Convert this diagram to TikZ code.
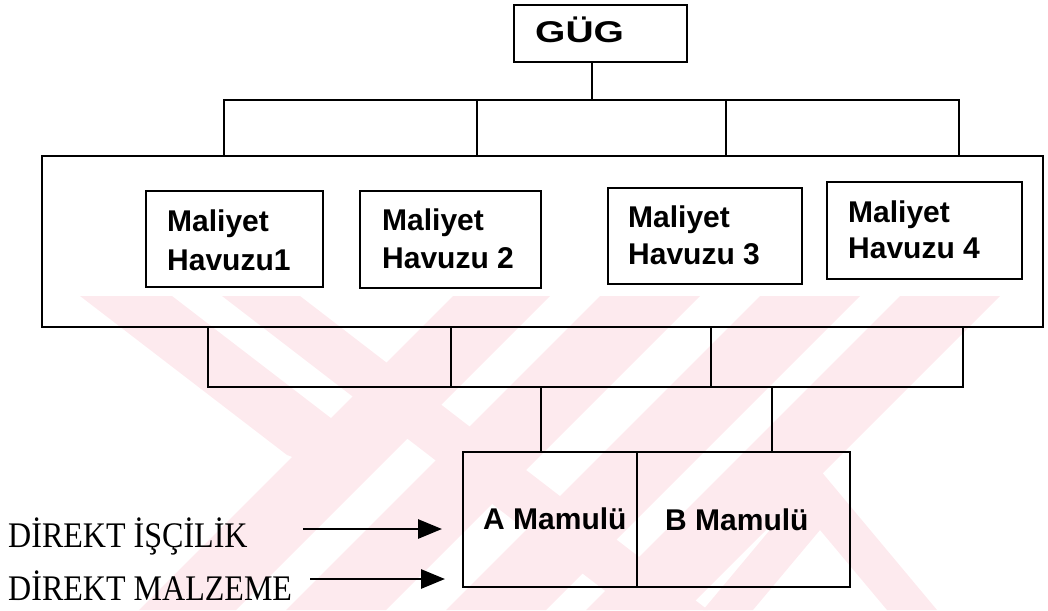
\documentclass[tikz,border=0pt]{standalone}
\usepackage{fontspec}
\usetikzlibrary{arrows.meta}
\newfontfamily\poolfont{Liberation Sans}
\newfontfamily\gugfont{Liberation Sans}[FakeStretch=1.3]
\newfontfamily\costfont{Liberation Serif}[FakeStretch=0.89]
\definecolor{wmpink}{RGB}{253,234,238}
\begin{document}
\begin{tikzpicture}[x=1pt,y=-1pt,
  box/.style={draw, line width=2.8pt, inner sep=0pt},
  wire/.style={line width=2.8pt},
  feed/.style={line width=2.8pt, -{Triangle[length=24pt,width=19pt]}},
  pooltext/.style={anchor=base west, inner sep=0pt, font=\poolfont\bfseries\fontsize{30}{34}\selectfont},
  prodtext/.style={anchor=base west, inner sep=0pt, font=\poolfont\bfseries\fontsize{30}{34}\selectfont},
  costtext/.style={anchor=base west, inner sep=0pt, font=\costfont\fontsize{36}{40}\selectfont}]
\useasboundingbox (0,0) rectangle (1048,610);

% faint background stamp
\begin{scope}
  \clip (0,296) rectangle (1048,610);
  \fill[wmpink] (80,296) -- (172,296) -- (379,455) -- (333,472) -- (287,455) -- cycle;
  \fill[wmpink] (222,296) -- (300,296) -- (708,610) -- (630,610) -- cycle;
  \fill[wmpink] (453,296) -- (550,296) -- (236,610) -- (139,610) -- cycle;
  \fill[wmpink] (600,296) -- (700,296) -- (386,610) -- (286,610) -- cycle;
  \fill[wmpink] (760,296) -- (860,296) -- (546,610) -- (446,610) -- cycle;
  \fill[wmpink] (900,296) -- (1000,296) -- (686,610) -- (586,610) -- cycle;
  \fill[wmpink] (820,470) -- (937,610) -- (887,610) -- (820,530) -- (753,610) -- (703,610) -- cycle;
\end{scope}

% boxes
\node[box, minimum width=173pt, minimum height=57pt] (gug) at (600.5,33.5) {};
\node[box, minimum width=1001pt, minimum height=171pt] (pools) at (542.5,241.5) {};
\node[box, minimum width=177pt, minimum height=96pt] (p1) at (234.5,239) {};
\node[box, minimum width=181pt, minimum height=97pt] (p2) at (450.5,239.5) {};
\node[box, minimum width=194pt, minimum height=96pt] (p3) at (705,236) {};
\node[box, minimum width=195pt, minimum height=97pt] (p4) at (924.5,230.5) {};
\node[box, minimum width=174pt, minimum height=135pt] (pa) at (550,519.5) {};
\node[box, minimum width=213pt, minimum height=135pt] (pb) at (743.5,519.5) {};

% texts
\node[anchor=base west, inner sep=0pt, font=\gugfont\bfseries\fontsize{30}{34}\selectfont] (gugt) at (535,43) {GÜG};
\node[pooltext] (p1a) at (167,231) {Maliyet};
\node[pooltext] (p1b) at (167,270) {Havuzu1};
\node[pooltext] (p2a) at (382,230) {Maliyet};
\node[pooltext] (p2b) at (382,268) {Havuzu 2};
\node[pooltext] (p3a) at (628,227) {Maliyet};
\node[pooltext] (p3b) at (628,264) {Havuzu 3};
\node[pooltext] (p4a) at (848,222) {Maliyet};
\node[pooltext] (p4b) at (848,258) {Havuzu 4};
\node[prodtext] (pat) at (483,529) {A Mamulü};
\node[prodtext] (pbt) at (665,530) {B Mamulü};
\node[costtext] (dl) at (8,547) {DİREKT İŞÇİLİK};
\node[costtext] (dm) at (8,600) {DİREKT MALZEME};

% distribution lines
\coordinate (g) at (592,100);
\coordinate (t1) at (224,100);
\coordinate (t2) at (477,100);
\coordinate (t3) at (726,100);
\coordinate (t4) at (959,100);
\draw[wire] (g |- gug.south) -- (g);
\draw[wire] (t1 |- pools.north) -- (t1) -- (t4) -- (t4 |- pools.north);
\draw[wire] (t2) -- (t2 |- pools.north);
\draw[wire] (t3) -- (t3 |- pools.north);

\coordinate (b1) at (208,387);
\coordinate (b2) at (451,387);
\coordinate (b3) at (711,387);
\coordinate (b4) at (963,387);
\draw[wire] (b1 |- pools.south) -- (b1) -- (b4) -- (b4 |- pools.south);
\draw[wire] (b2 |- pools.south) -- (b2);
\draw[wire] (b3 |- pools.south) -- (b3);
\coordinate (c1) at (541,387);
\coordinate (c2) at (772,387);
\draw[wire] (c1) -- (c1 |- pa.north);
\draw[wire] (c2) -- (c2 |- pb.north);

% direct cost inputs
\coordinate (s1) at (303,529);
\coordinate (e1) at (442,529);
\coordinate (s2) at (310,579);
\coordinate (e2) at (445,579);
\draw[feed] (s1) -- (e1);
\draw[feed] (s2) -- (e2);
\end{tikzpicture}
\end{document}
